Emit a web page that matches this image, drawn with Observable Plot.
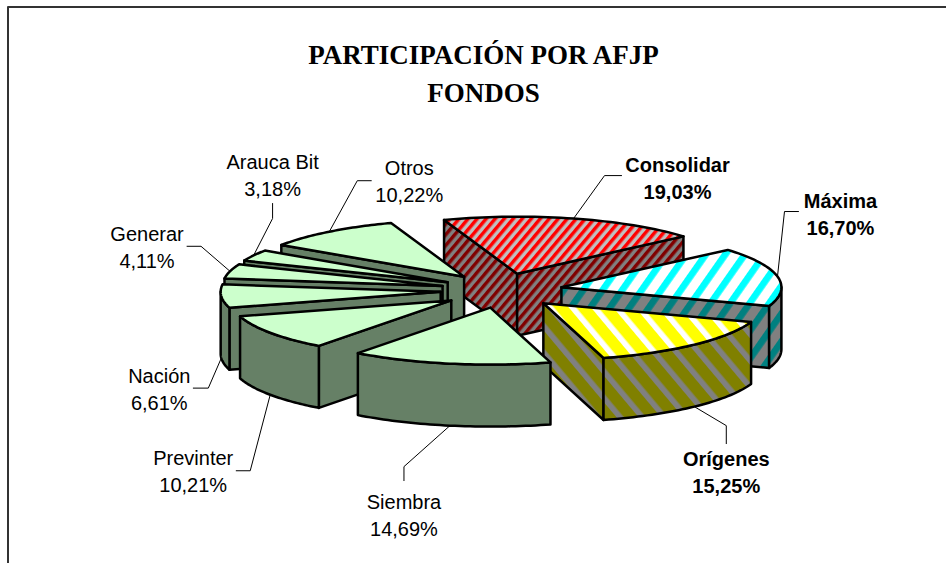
<!DOCTYPE html>
<html>
<head>
<meta charset="utf-8">
<style>html,body{margin:0;padding:0;background:#fff}svg{display:block}</style>
<script src="https://cdn.jsdelivr.net/npm/d3@7"></script>
<script src="https://cdn.jsdelivr.net/npm/@observablehq/plot@0.6"></script>
</head>
<body>
<script>
// ---- chart values ----
const titleLines = ["PARTICIPACIÓN POR AFJP", "FONDOS"];
const names = ["Consolidar", "Máxima", "Orígenes", "Siembra", "Previnter", "Nación", "Generar", "Arauca Bit", "Otros"];
const shares = [19.03, 16.70, 15.25, 14.69, 10.21, 6.61, 4.11, 3.18, 10.22];
const shareLabels = ["19,03%", "16,70%", "15,25%", "14,69%", "10,21%", "6,61%", "4,11%", "3,18%", "10,22%"];
const boldNames = ["Consolidar", "Máxima", "Orígenes"];

// ---- styles ----
const green = {top: "#ccffcc", wall: "#668066"};
const sliceFills = {
  "Consolidar": {top: "url(#consTop)", wall: "url(#consWall)"},
  "Máxima": {top: "url(#maxTop)", wall: "url(#maxWall)"},
  "Orígenes": {top: "url(#origTop)", wall: "url(#origWall)"}
};
const patterns = [
  ["consTop", "#c0c0c0", "#ff0000", 6.9, 0.5, 40],
  ["consWall", "#808080", "#800000", 6.9, 0.5, 40],
  ["maxTop", "#ffffff", "#00ffff", 16, 0.42, 35],
  ["maxWall", "#808080", "#008080", 16, 0.42, 35],
  ["origTop", "#ffff00", "#ffffff", 17, 0.33, -40],
  ["origWall", "#808000", "#808080", 17, 0.33, -40]
];

// ---- projection of the exploded 3-D pie ----
const W = 946, H = 563;
const cx = 501, cy = 290, rx = 220, ry = 57, depth = 62;
const explodeX = 61, explodeY = 17.4, startAngle = -109.4;
const drawOrder = ["Consolidar", "Otros", "Arauca Bit", "Generar", "Nación", "Previnter", "Máxima", "Orígenes", "Siembra"];

// label offsets, relative to where each slice's rim is at its mid angle
const placement = {
  "Consolidar": {leader: [[31, -43], [48, -43]], label: [104, -41.5]},
  "Máxima": {leader: [[7, -65], [21, -65]], label: [63, -64]},
  "Orígenes": {leader: [[32, 19], [32, 37]], label: [32, 64.5]},
  "Siembra": {leader: [[-46, 41], [-46, 55]], label: [-46, 88.4]},
  "Previnter": {leader: [[-20, 76], [-34, 76]], label: [-77, 75]},
  "Nación": {leader: [[-13, 30], [-28, 30]], label: [-62, 30]},
  "Generar": {leader: [[-29, -25], [-43, -25]], label: [-83, -25]},
  "Arauca Bit": {leader: [[19, -37], [19, -52]], label: [19, -82]},
  "Otros": {leader: [[28, -51], [42, -51]], label: [80, -52]}
};

const rad = d => d * Math.PI / 180;
const total = d3.sum(shares);
let acc = startAngle;
const slices = names.map((name, i) => {
  const a0 = acc, a1 = acc + shares[i] / total * 360;
  acc = a1;
  const mid = (a0 + a1) / 2;
  const ax = cx + explodeX * Math.cos(rad(mid));
  const ay = cy + explodeY * Math.sin(rad(mid));
  const rim = a => [ax + rx * Math.cos(rad(a)), ay + ry * Math.sin(rad(a))];
  const arc = (from, to) => d3.range(0, 41).map(k => rim(from + (to - from) * k / 40));
  const [mx, my] = rim(mid);
  const front = Math.sin(rad(mid)) > 0;
  return {name, share: shareLabels[i], a0, a1, mid, ax, ay, rim, arc, anchor: [mx, my + (front ? depth : 0)],
          fills: sliceFills[name] || green};
});

const closed = pts => [...pts, pts[0]];
const down = ([x, y]) => [x, y + depth];
const polyStyle = fill => ({x: d => d[0], y: d => d[1], fill, stroke: "#000", strokeWidth: 2.5, strokeLinejoin: "round", curve: "linear"});

function sliceMarks(s) {
  const out = [];
  const apex = [s.ax, s.ay];
  const radial = a => {
    const p = s.rim(a);
    return closed([apex, p, down(p), down(apex)]);
  };
  // a radial side shows only when it faces the viewer
  if (Math.cos(rad(s.a0)) < 0) out.push(Plot.line(radial(s.a0), polyStyle(s.fills.wall)));
  if (Math.cos(rad(s.a1)) > 0) out.push(Plot.line(radial(s.a1), polyStyle(s.fills.wall)));
  // outer wall: every part of the rim that lies in front
  [[0, 180], [360, 540]].forEach(([lo, hi]) => {
    const from = Math.max(s.a0, lo), to = Math.min(s.a1, hi);
    if (from < to) {
      const top = s.arc(from, to);
      out.push(Plot.line(closed([...top, ...top.slice().reverse().map(down)]), polyStyle(s.fills.wall)));
    }
  });
  out.push(Plot.line(closed([apex, ...s.arc(s.a0, s.a1)]), polyStyle(s.fills.top)));
  return out;
}

const byName = new Map(slices.map(s => [s.name, s]));
const leaderLines = slices.map(s => {
  const [x, y] = s.anchor;
  return [[x, y], ...placement[s.name].leader.map(([dx, dy]) => [x + dx, y + dy])];
});
const labelRows = slices.map(s => {
  const [dx, dy] = placement[s.name].label;
  return {text: s.name + "\n" + s.share, x: s.anchor[0] + dx, y: s.anchor[1] + dy, bold: boldNames.includes(s.name)};
});

const labelFont = {x: "x", y: "y", text: "text", fontFamily: "Liberation Sans", fontSize: 20, lineHeight: 1.35, fill: "#000", lineAnchor: "middle", textAnchor: "middle"};

const defsMark = () => {
  const defs = d3.create("svg:defs");
  patterns.forEach(([id, base, band, period, ratio, angle]) => {
    const p = defs.append("pattern").attr("id", id).attr("patternUnits", "userSpaceOnUse")
      .attr("width", period).attr("height", period).attr("patternTransform", `rotate(${angle})`);
    p.append("rect").attr("width", period).attr("height", period).attr("fill", base);
    p.append("rect").attr("width", period * ratio).attr("height", period).attr("fill", band);
  });
  return defs.node();
};

const chart = Plot.plot({
  width: W, height: H,
  margin: 0,
  x: {domain: [0, W], range: [0, W], axis: null},
  y: {domain: [0, H], range: [0, H], axis: null},
  style: {background: "#fff"},
  marks: [
    defsMark,
    Plot.ruleX([7.5], {y1: 6.5, y2: H, stroke: "#333", strokeWidth: 2}),
    Plot.ruleY([6.5], {x1: 7.5, x2: W, stroke: "#333", strokeWidth: 2}),
    Plot.text(titleLines, {x: () => 483, y: (d, i) => 55 + i * 38, text: d => d, fontFamily: "Liberation Serif", fontWeight: "bold", fontSize: 27, fill: "#000", textAnchor: "middle"}),
    leaderLines.map(l => Plot.line(l, {x: d => d[0], y: d => d[1], stroke: "#000", strokeWidth: 1, curve: "linear"})),
    drawOrder.map(n => sliceMarks(byName.get(n))),
    Plot.text(labelRows.filter(d => !d.bold), labelFont),
    Plot.text(labelRows.filter(d => d.bold), {...labelFont, fontWeight: "bold"})
  ]
});
document.body.appendChild(chart);
</script>
</body>
</html>
